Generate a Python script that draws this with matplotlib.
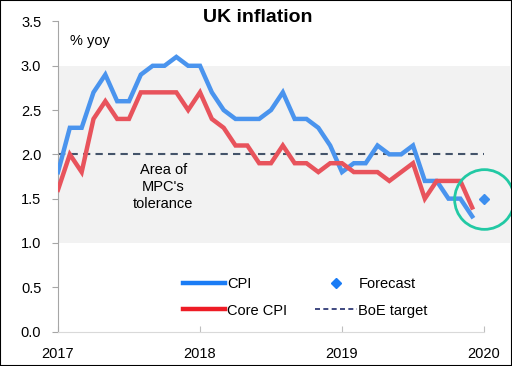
import matplotlib
matplotlib.use("Agg")
import matplotlib.pyplot as plt
from matplotlib.lines import Line2D
from matplotlib.patches import Rectangle

plt.rcParams['font.family'] = ['Liberation Sans', 'DejaVu Sans']

# Monthly data Jan 2017 .. Dec 2019
cpi = [1.8, 2.3, 2.3, 2.7, 2.9, 2.6, 2.6, 2.9, 3.0, 3.0, 3.1, 3.0,
       3.0, 2.7, 2.5, 2.4, 2.4, 2.4, 2.5, 2.7, 2.4, 2.4, 2.3, 2.1,
       1.8, 1.9, 1.9, 2.1, 2.0, 2.0, 2.1, 1.7, 1.7, 1.5, 1.5, 1.3]
core = [1.6, 2.0, 1.8, 2.4, 2.6, 2.4, 2.4, 2.7, 2.7, 2.7, 2.7, 2.5,
        2.7, 2.4, 2.3, 2.1, 2.1, 1.9, 1.9, 2.1, 1.9, 1.9, 1.8, 1.9,
        1.9, 1.8, 1.8, 1.8, 1.7, 1.8, 1.9, 1.5, 1.7, 1.7, 1.7, 1.4]
forecast_x = [36]
forecast_y = [1.5]
target = 2.0
tolerance = (1.0, 3.0)
year_labels = ['2017', '2018', '2019', '2020']
year_pos = [0, 12, 24, 36]
yticks = [0.0, 0.5, 1.0, 1.5, 2.0, 2.5, 3.0, 3.5]

months = list(range(len(cpi)))

fig = plt.figure(figsize=(5.12, 3.66), dpi=100)
ax = fig.add_axes([58/512, 1-331.5/366, (510-58)/512, (331.5-21.5)/366])

x_right = (510-58) / ((484-58)/36)
ax.set_xlim(0, x_right)
ax.set_ylim(0, 3.5)

ax.axhspan(tolerance[0], tolerance[1], xmin=0, xmax=1, color='#f2f2f2', zorder=0, lw=0)
ax.plot([0, 36], [target, target], color='#44546a', lw=1.5, dashes=(3.5, 2.5), zorder=2)

ax.plot(months, cpi, color='#4a94ee', lw=3.2, solid_joinstyle='miter', zorder=3)
ax.plot(months, core, color='#e8535c', lw=3.2, solid_joinstyle='miter', zorder=3)
ax.plot(forecast_x, forecast_y, 'D', color='#3d8fef', ms=5, zorder=4)
ax.plot(forecast_x, forecast_y, 'o', mfc='none', mec='#22c9a4', ms=43, mew=2, zorder=4)

ax.text(8.9, 1.63, "Area of\nMPC's\ntolerance", ha='center', va='center',
        fontsize=10.5, linespacing=1.25)

ax.set_xticks(year_pos)
ax.set_xticklabels(year_labels, fontsize=10.5)
ax.set_yticks(yticks)
ax.set_yticklabels([f'{v:.1f}' for v in yticks], fontsize=10.5)
ax.tick_params(axis='x', direction='in', length=4, pad=11, color='#bfbfbf')
ax.tick_params(axis='y', direction='out', length=4, pad=8, color='#a6a6a6')

for s in ['top', 'right']:
    ax.spines[s].set_visible(False)
ax.spines['left'].set_color('#a6a6a6')
ax.spines['bottom'].set_color('#d9d9d9')
ax.spines['bottom'].set_bounds(0, 36)
ax.patch.set_alpha(0)

ax.text(1.0, 3.28, '% yoy', fontsize=10.5, ha='left', va='center')
fig.text(258/512, 1-17/366, 'UK inflation', ha='center', va='center',
         fontsize=14, fontweight='bold')

handles = [
    Line2D([], [], color='#1a7cf5', lw=3.2),
    Line2D([], [], color='#ee1c25', lw=3.2),
    Line2D([], [], color='#1a7cf5', marker='D', ls='none', ms=5),
    Line2D([], [], color='#1f2a6b', lw=1.2, dashes=(3, 2)),
]
labels = ['CPI', 'Core CPI', 'Forecast', 'BoE target']
fig.legend(handles, labels, ncol=2, loc='upper left',
           bbox_to_anchor=(170/512, 1-264/366), frameon=False,
           fontsize=10.5, handlelength=2.9, handletextpad=0.1,
           columnspacing=1.9, labelspacing=0.85)

fig.patches.append(Rectangle((0, 0), 1, 1, transform=fig.transFigure,
                             fill=False, edgecolor='black', lw=1.5))

fig.savefig('out.png', dpi=100)
